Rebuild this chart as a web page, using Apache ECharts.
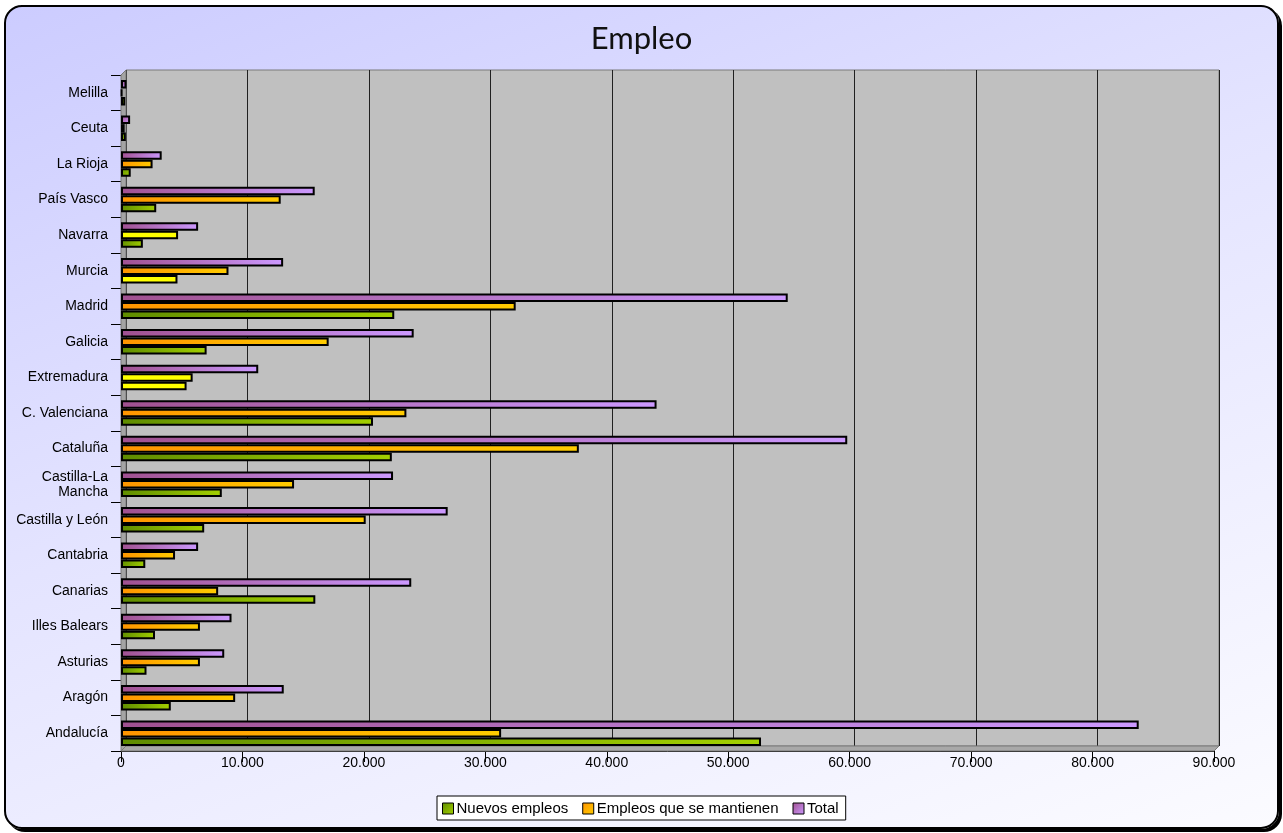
<!DOCTYPE html>
<html>
<head>
<meta charset="utf-8">
<script src="https://cdn.jsdelivr.net/npm/echarts@6/dist/echarts.min.js"></script>
<style>
  html, body { margin: 0; padding: 0; width: 1283px; height: 833px; background: #ffffff; overflow: hidden; }
  #frame {
    position: absolute; left: 4px; top: 5px; width: 1271px; height: 820px;
    border: 2px solid #000; border-radius: 18px;
    box-shadow: 3px 3px 0 #000;
    background: linear-gradient(160deg, #ccccff 0%, #e4e4ff 45%, #fbfbff 100%);
  }
  #chart { position: absolute; left: 0; top: 0; width: 1283px; height: 833px; }
</style>
</head>
<body>
<div id="frame"></div>
<div id="chart"></div>
<script>
// ---- Data (bottom to top on the category axis) ----
const categories = ['Andalucía', 'Aragón', 'Asturias', 'Illes Balears', 'Canarias', 'Cantabria',
  'Castilla y León', 'Castilla-La Mancha', 'Cataluña', 'C. Valenciana', 'Extremadura', 'Galicia',
  'Madrid', 'Murcia', 'Navarra', 'País Vasco', 'La Rioja', 'Ceuta', 'Melilla'];
const nuevosEmpleos = [52700, 4100, 2100, 2800, 16000, 2000, 6850, 8300, 22300, 20750, 5400, 7050,
  22500, 4650, 1800, 2900, 800, 400, 350];
const empleosMantienen = [31300, 9400, 6500, 6500, 8000, 4450, 20150, 14250, 37700, 23500, 5900, 17100,
  32500, 8850, 4700, 13150, 2600, 300, 100];
const total = [83800, 13400, 8500, 9100, 23900, 6350, 26900, 22400, 59800, 44100, 11300, 24100,
  54900, 13350, 6350, 15950, 3350, 750, 450];
const seriesNames = ['Nuevos empleos', 'Empleos que se mantienen', 'Total'];
const xTicks = [0, 10000, 20000, 30000, 40000, 50000, 60000, 70000, 80000, 90000];
// points drawn in yellow in the original
const yellowNuevos = ['Murcia', 'Extremadura'];
const yellowMantienen = ['Navarra', 'Extremadura'];

// ---- Layout ----
const G = { left: 121, top: 75, width: 1093, height: 676 };
const D = 5; // 3D depth offset

function grad(c1, c2) {
  return new echarts.graphic.LinearGradient(0, 0, 1, 1, [
    { offset: 0, color: c1 }, { offset: 1, color: c2 }
  ]);
}
const greenG = grad('#5f8c00', '#a3d000');
const orangeG = grad('#ff9400', '#ffcc00');
const purpleG = grad('#a0508f', '#cc99ff');

function fmt(v) {
  return String(v).replace(/\B(?=(\d{3})+(?!\d))/g, '.');
}
function withYellow(values, yellowList) {
  return values.map((v, i) => yellowList.indexOf(categories[i]) >= 0
    ? { value: v, itemStyle: { color: '#ffff00' } } : v);
}

const chart = echarts.init(document.getElementById('chart'), null, { renderer: 'canvas' });
const barCommon = {
  type: 'bar', xAxisIndex: 1, yAxisIndex: 1, barWidth: 8.5, barGap: '0%', z: 3
};
chart.setOption({
  backgroundColor: 'transparent',
  animation: false,
  title: {
    text: 'Empleo', left: 'center', top: 18,
    textStyle: { fontFamily: 'Lato', fontSize: 31, fontWeight: 'normal', color: '#111' }
  },
  legend: {
    data: seriesNames,
    left: 437, top: 796,
    backgroundColor: '#fff', borderColor: '#000', borderWidth: 1, borderRadius: 0,
    padding: [5, 7, 4, 5],
    itemWidth: 11, itemHeight: 11, itemGap: 14,
    icon: 'rect',
    itemStyle: { borderColor: '#000', borderWidth: 1 },
    textStyle: { fontFamily: 'Liberation Sans, Arial', fontSize: 15, color: '#000', padding: [0, 0, 0, -2] }
  },
  grid: [
    { left: G.left + D, top: G.top - D, width: G.width, height: G.height,
      show: true, backgroundColor: '#c0c0c0', borderColor: '#7a7a7a', borderWidth: 1 },
    { left: G.left, top: G.top, width: G.width, height: G.height }
  ],
  graphic: [
    { type: 'polygon', z: 1, silent: true,
      shape: { points: [[G.left, G.top], [G.left + D, G.top - D], [G.left + D, G.top + G.height - D], [G.left, G.top + G.height]] },
      style: { fill: '#a4a4a4', stroke: '#7a7a7a', lineWidth: 1 } },
    { type: 'polygon', z: 1, silent: true,
      shape: { points: [[G.left, G.top + G.height], [G.left + D, G.top + G.height - D], [G.left + G.width + D, G.top + G.height - D], [G.left + G.width, G.top + G.height]] },
      style: { fill: '#a8a8a8', stroke: '#7a7a7a', lineWidth: 1 } }
  ],
  xAxis: [
    { gridIndex: 0, type: 'value', min: xTicks[0], max: xTicks[xTicks.length - 1], interval: xTicks[1] - xTicks[0],
      axisLabel: { show: false }, axisLine: { show: false }, axisTick: { show: false },
      splitLine: { show: true, lineStyle: { color: '#202020', width: 1 } } },
    { gridIndex: 1, type: 'value', min: xTicks[0], max: xTicks[xTicks.length - 1], interval: xTicks[1] - xTicks[0],
      splitLine: { show: false },
      axisLine: { show: true, lineStyle: { color: '#000', width: 1 } },
      axisTick: { show: true, length: 11, lineStyle: { color: '#000' } },
      axisLabel: { margin: 5, fontFamily: 'Liberation Sans, Arial', fontSize: 14, color: '#000', formatter: fmt } }
  ],
  yAxis: [
    { gridIndex: 0, type: 'category', data: categories, show: false },
    { gridIndex: 1, type: 'category', data: categories,
      axisLine: { show: true, lineStyle: { color: '#000', width: 1 } },
      axisTick: { show: true, length: 10, lineStyle: { color: '#000' } },
      axisLabel: { margin: 13, fontFamily: 'Liberation Sans, Arial', fontSize: 14, color: '#000', lineHeight: 15,
        formatter: v => v.replace('-La ', '-La\n') } }
  ],
  series: [
    Object.assign({}, barCommon, { name: seriesNames[2], data: total,
      itemStyle: { color: purpleG, borderColor: '#000', borderWidth: 2 } }),
    Object.assign({}, barCommon, { name: seriesNames[1], data: withYellow(empleosMantienen, yellowMantienen),
      itemStyle: { color: orangeG, borderColor: '#000', borderWidth: 2 } }),
    Object.assign({}, barCommon, { name: seriesNames[0], data: withYellow(nuevosEmpleos, yellowNuevos),
      itemStyle: { color: greenG, borderColor: '#000', borderWidth: 2 } })
  ]
});
</script>
</body>
</html>
